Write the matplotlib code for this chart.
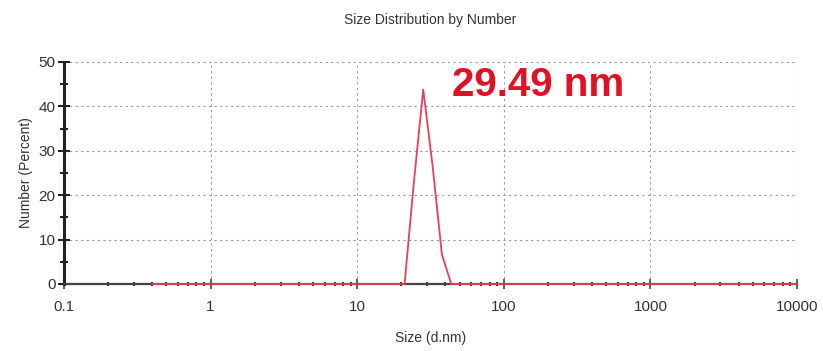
import numpy as np
import matplotlib
matplotlib.use("Agg")
import matplotlib.pyplot as plt
from matplotlib.ticker import LogLocator, FixedLocator, NullFormatter

plt.rcParams['font.family'] = ['Liberation Sans', 'DejaVu Sans']

# Zetasizer bins (d.nm) and number percent
size_nm = [0.4, 18.17, 21.04, 24.36, 28.21, 32.67, 37.84, 43.82, 10000]
number_pct = [0, 0, 0, 23.0, 43.8, 26.6, 6.6, 0, 0]

xticks = [0.1, 1, 10, 100, 1000, 10000]
xticklabels = ["0.1", "1", "10", "100", "1000", "10000"]
yticks = [0, 10, 20, 30, 40, 50]
peak_label = "29.49 nm"

fig = plt.figure(figsize=(8.23, 3.51), dpi=100)
ax = fig.add_axes([0.0778, 0.1909, 0.8906, 0.6325])

ax.plot(size_nm, number_pct, color="#e4405a", lw=1.3, zorder=3, clip_on=False)

ax.set_xscale("log")
ax.set_xlim(0.1, 10000)
ax.set_ylim(0, 50)
ax.set_xticks(xticks)
ax.set_xticklabels(xticklabels)
ax.xaxis.set_minor_locator(LogLocator(base=10, subs=np.arange(2, 10)))
ax.xaxis.set_minor_formatter(NullFormatter())
ax.set_yticks(yticks)
ax.yaxis.set_minor_locator(FixedLocator([5, 15, 25, 35, 45]))

ax.grid(True, which="major", color="#999999", ls=(0, (2, 3)), lw=0.8)

for s in ["top", "right"]:
    ax.spines[s].set_visible(False)
ax.spines["left"].set_linewidth(2.2)
ax.spines["left"].set_color("#222222")
ax.spines["bottom"].set_linewidth(1.6)
ax.spines["bottom"].set_color("#444444")

ax.tick_params(axis="both", which="major", labelsize=11, labelcolor="#333333")
ax.tick_params(axis="x", which="major", direction="inout", length=7, width=1.2, color="#444444", pad=8)
ax.tick_params(axis="x", which="minor", direction="inout", length=3, width=1.5, color="#333333")
ax.tick_params(axis="y", which="major", direction="inout", length=8, width=1.5, color="#222222", pad=2)
ax.tick_params(axis="y", which="minor", direction="inout", length=6, width=1.5, color="#222222")

ax.set_xlabel("Size (d.nm)", fontsize=10, color="#333333", labelpad=12)
ax.set_ylabel("Number (Percent)", fontsize=10, color="#333333", labelpad=4)
ax.set_title("Size Distribution by Number", fontsize=10, color="#333333", pad=27)

ax.text(44.5, 44.8, peak_label, color="#e01025", fontsize=29, fontweight="bold",
        va="center", ha="left", zorder=4)

fig.savefig("out.png", dpi=100)
